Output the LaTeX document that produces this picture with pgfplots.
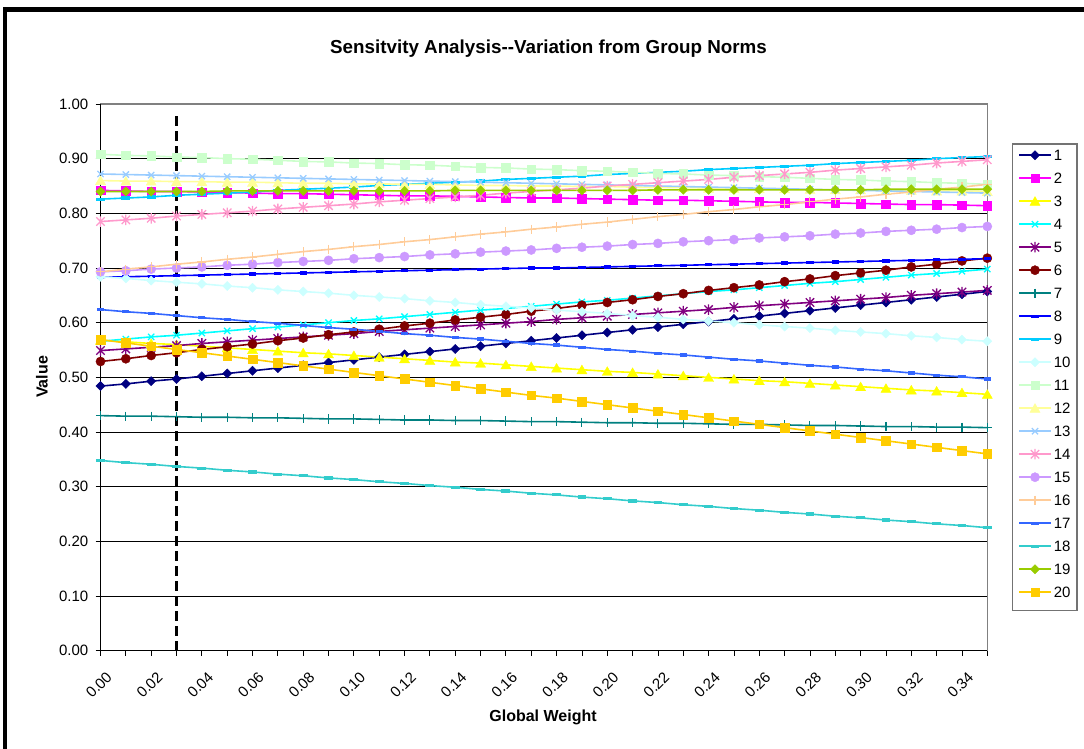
\documentclass[border=0pt]{standalone}
\usepackage{fontspec}
\setmainfont{Liberation Sans}
\usepackage{pgfplots}
\pgfplotsset{compat=1.18}
\usepackage{pgfplotstable}

% Excel 2003 default series colours
\definecolor{c1}{HTML}{000080}
\definecolor{c2}{HTML}{FF00FF}
\definecolor{c3}{HTML}{FFFF00}
\definecolor{c4}{HTML}{00FFFF}
\definecolor{c5}{HTML}{800080}
\definecolor{c6}{HTML}{800000}
\definecolor{c7}{HTML}{008080}
\definecolor{c8}{HTML}{0000FF}
\definecolor{c9}{HTML}{00CCFF}
\definecolor{c10}{HTML}{CCFFFF}
\definecolor{c11}{HTML}{CCFFCC}
\definecolor{c12}{HTML}{FFFF99}
\definecolor{c13}{HTML}{99CCFF}
\definecolor{c14}{HTML}{FF99CC}
\definecolor{c15}{HTML}{CC99FF}
\definecolor{c16}{HTML}{FFCC99}
\definecolor{c17}{HTML}{3366FF}
\definecolor{c18}{HTML}{33CCCC}
\definecolor{c19}{HTML}{99CC00}
\definecolor{c20}{HTML}{FFCC00}

% Excel-like marker shapes
\pgfdeclareplotmark{xdiamond}{%
  \pgfpathmoveto{\pgfqpoint{0pt}{\pgfplotmarksize}}%
  \pgfpathlineto{\pgfqpoint{\pgfplotmarksize}{0pt}}%
  \pgfpathlineto{\pgfqpoint{0pt}{-\pgfplotmarksize}}%
  \pgfpathlineto{\pgfqpoint{-\pgfplotmarksize}{0pt}}%
  \pgfpathclose\pgfusepathqfillstroke}
\pgfdeclareplotmark{xtri}{%
  \pgfpathmoveto{\pgfqpoint{0pt}{\pgfplotmarksize}}%
  \pgfpathlineto{\pgfqpoint{1.1\pgfplotmarksize}{-0.9\pgfplotmarksize}}%
  \pgfpathlineto{\pgfqpoint{-1.1\pgfplotmarksize}{-0.9\pgfplotmarksize}}%
  \pgfpathclose\pgfusepathqfillstroke}
\pgfdeclareplotmark{xstar}{%
  \pgfpathmoveto{\pgfqpoint{-\pgfplotmarksize}{-\pgfplotmarksize}}%
  \pgfpathlineto{\pgfqpoint{\pgfplotmarksize}{\pgfplotmarksize}}%
  \pgfpathmoveto{\pgfqpoint{-\pgfplotmarksize}{\pgfplotmarksize}}%
  \pgfpathlineto{\pgfqpoint{\pgfplotmarksize}{-\pgfplotmarksize}}%
  \pgfpathmoveto{\pgfqpoint{0pt}{-1.25\pgfplotmarksize}}%
  \pgfpathlineto{\pgfqpoint{0pt}{1.25\pgfplotmarksize}}%
  \pgfusepathqstroke}
\pgfdeclareplotmark{xdash}{%
  \pgfpathrectangle{\pgfqpoint{-\pgfplotmarksize}{-1.6pt}}{\pgfqpoint{2\pgfplotmarksize}{3.2pt}}%
  \pgfusepathqfill}

\pgfplotstableread{
x    s1    s2    s3    s4    s5    s6    s7    s8    s9    s10   s11   s12   s13   s14   s15   s16   s17   s18   s19   s20
0.00 0.484 0.842 0.568 0.566 0.549 0.529 0.430 0.683 0.826 0.684 0.908 0.860 0.872 0.785 0.693 0.693 0.624 0.348 0.840 0.569
0.01 0.488 0.841 0.565 0.570 0.552 0.534 0.429 0.684 0.828 0.681 0.906 0.859 0.871 0.788 0.695 0.698 0.620 0.344 0.840 0.563
0.02 0.493 0.840 0.562 0.574 0.555 0.540 0.429 0.685 0.830 0.677 0.905 0.859 0.870 0.791 0.698 0.702 0.617 0.341 0.840 0.557
0.03 0.497 0.840 0.560 0.577 0.558 0.545 0.428 0.686 0.833 0.674 0.903 0.858 0.869 0.795 0.700 0.707 0.613 0.337 0.840 0.551
0.04 0.502 0.839 0.557 0.581 0.562 0.551 0.427 0.687 0.835 0.671 0.902 0.858 0.868 0.798 0.702 0.711 0.609 0.334 0.840 0.545
0.05 0.507 0.838 0.554 0.585 0.565 0.556 0.427 0.688 0.837 0.667 0.900 0.857 0.867 0.801 0.705 0.716 0.606 0.330 0.841 0.539
0.06 0.512 0.837 0.551 0.589 0.568 0.561 0.426 0.689 0.839 0.664 0.899 0.857 0.866 0.804 0.707 0.720 0.602 0.327 0.841 0.533
0.07 0.517 0.836 0.548 0.592 0.571 0.567 0.426 0.690 0.842 0.660 0.897 0.856 0.865 0.808 0.710 0.725 0.599 0.323 0.841 0.527
0.08 0.522 0.836 0.545 0.596 0.574 0.572 0.425 0.691 0.844 0.657 0.895 0.855 0.864 0.811 0.712 0.730 0.595 0.320 0.841 0.521
0.09 0.527 0.835 0.543 0.600 0.577 0.578 0.424 0.692 0.846 0.654 0.894 0.855 0.863 0.814 0.714 0.734 0.591 0.316 0.841 0.515
0.10 0.532 0.834 0.540 0.604 0.580 0.583 0.424 0.693 0.848 0.650 0.892 0.854 0.862 0.817 0.717 0.739 0.588 0.313 0.841 0.509
0.11 0.537 0.833 0.537 0.607 0.584 0.588 0.423 0.694 0.851 0.647 0.891 0.854 0.861 0.821 0.719 0.743 0.584 0.309 0.841 0.503
0.12 0.542 0.832 0.534 0.611 0.587 0.594 0.422 0.695 0.853 0.644 0.889 0.853 0.860 0.824 0.721 0.748 0.580 0.306 0.841 0.497
0.13 0.547 0.832 0.531 0.615 0.590 0.599 0.422 0.696 0.855 0.640 0.888 0.853 0.859 0.827 0.724 0.752 0.577 0.302 0.841 0.491
0.14 0.552 0.831 0.528 0.619 0.593 0.605 0.421 0.697 0.857 0.637 0.886 0.852 0.858 0.830 0.726 0.757 0.573 0.299 0.842 0.485
0.15 0.557 0.830 0.526 0.623 0.596 0.610 0.421 0.698 0.859 0.633 0.884 0.851 0.857 0.833 0.729 0.762 0.570 0.295 0.842 0.479
0.16 0.562 0.829 0.523 0.626 0.599 0.615 0.420 0.699 0.862 0.630 0.883 0.851 0.856 0.837 0.731 0.766 0.566 0.292 0.842 0.473
0.17 0.567 0.828 0.520 0.630 0.602 0.621 0.419 0.700 0.864 0.627 0.881 0.850 0.855 0.840 0.733 0.771 0.562 0.288 0.842 0.467
0.18 0.572 0.828 0.517 0.634 0.606 0.626 0.419 0.700 0.866 0.623 0.880 0.850 0.854 0.843 0.736 0.775 0.559 0.285 0.842 0.462
0.19 0.577 0.827 0.514 0.638 0.609 0.632 0.418 0.701 0.868 0.620 0.878 0.849 0.853 0.846 0.738 0.780 0.555 0.281 0.842 0.456
0.20 0.582 0.826 0.511 0.641 0.612 0.637 0.417 0.702 0.871 0.617 0.877 0.849 0.852 0.850 0.740 0.784 0.551 0.278 0.842 0.450
0.21 0.587 0.825 0.509 0.645 0.615 0.642 0.417 0.703 0.873 0.613 0.875 0.848 0.851 0.853 0.743 0.789 0.548 0.274 0.842 0.444
0.22 0.592 0.824 0.506 0.649 0.618 0.648 0.416 0.704 0.875 0.610 0.873 0.847 0.850 0.856 0.745 0.794 0.544 0.271 0.843 0.438
0.23 0.597 0.824 0.503 0.653 0.621 0.653 0.416 0.705 0.877 0.606 0.872 0.847 0.849 0.859 0.748 0.798 0.541 0.267 0.843 0.432
0.24 0.602 0.823 0.500 0.657 0.624 0.659 0.415 0.706 0.880 0.603 0.870 0.846 0.848 0.862 0.750 0.803 0.537 0.264 0.843 0.426
0.25 0.607 0.822 0.497 0.660 0.628 0.664 0.414 0.707 0.882 0.600 0.869 0.846 0.847 0.866 0.752 0.807 0.533 0.260 0.843 0.420
0.26 0.612 0.821 0.494 0.664 0.631 0.669 0.414 0.708 0.884 0.596 0.867 0.845 0.846 0.869 0.755 0.812 0.530 0.257 0.843 0.414
0.27 0.617 0.820 0.492 0.668 0.634 0.675 0.413 0.709 0.886 0.593 0.866 0.845 0.845 0.872 0.757 0.816 0.526 0.253 0.843 0.408
0.28 0.622 0.820 0.489 0.672 0.637 0.680 0.412 0.710 0.888 0.590 0.864 0.844 0.844 0.875 0.759 0.821 0.522 0.250 0.843 0.402
0.29 0.627 0.819 0.486 0.675 0.640 0.686 0.412 0.711 0.891 0.586 0.862 0.843 0.843 0.879 0.762 0.826 0.519 0.246 0.843 0.396
0.30 0.632 0.818 0.483 0.679 0.643 0.691 0.411 0.712 0.893 0.583 0.861 0.843 0.842 0.882 0.764 0.830 0.515 0.243 0.843 0.390
0.31 0.637 0.817 0.480 0.683 0.646 0.696 0.410 0.713 0.895 0.580 0.859 0.842 0.841 0.885 0.767 0.835 0.512 0.239 0.844 0.384
0.32 0.642 0.816 0.477 0.687 0.650 0.702 0.410 0.714 0.897 0.576 0.858 0.842 0.840 0.888 0.769 0.839 0.508 0.236 0.844 0.378
0.33 0.647 0.816 0.475 0.690 0.653 0.707 0.409 0.715 0.900 0.573 0.856 0.841 0.839 0.892 0.771 0.844 0.504 0.232 0.844 0.372
0.34 0.652 0.815 0.472 0.694 0.656 0.713 0.409 0.716 0.902 0.569 0.855 0.841 0.838 0.895 0.774 0.848 0.501 0.229 0.844 0.366
0.35 0.657 0.814 0.469 0.698 0.659 0.718 0.408 0.717 0.904 0.566 0.853 0.840 0.837 0.898 0.776 0.853 0.497 0.225 0.844 0.360
}\sensdata

\begin{document}
\begin{tikzpicture}[x=1pt,y=1pt]
\useasboundingbox (0,0) rectangle (1084,748);
% chart area frame (only top and left edges are inside the picture)
\draw[line width=4.3pt, line join=miter] (5,-10) -- (5,738.5) -- (1100,738.5);

\node[font=\bfseries\fontsize{18.8}{20}\selectfont, anchor=base] at (548.5,694) {Sensitvity Analysis-{}-Variation from Group Norms};
\node[font=\bfseries\fontsize{16}{17}\selectfont, rotate=90] at (42,371) {Value};
\node[font=\bfseries\fontsize{16}{17}\selectfont] at (543,31) {Global Weight};

\begin{axis}[
    at={(100.5pt,97.3pt)}, anchor=south west,
    scale only axis,
    width=886.8pt, height=546.7pt,
    xmin=0, xmax=0.35,
    ymin=0, ymax=1,
    clip=false,
    xtick={0,0.02,0.04,0.06,0.08,0.10,0.12,0.14,0.16,0.18,0.20,0.22,0.24,0.26,0.28,0.30,0.32,0.34},
    minor xtick={0.01,0.03,0.05,0.07,0.09,0.11,0.13,0.15,0.17,0.19,0.21,0.23,0.25,0.27,0.29,0.31,0.33,0.35},
    ytick={0,0.1,0.2,0.3,0.4,0.5,0.6,0.7,0.8,0.9,1},
    xtick pos=bottom, ytick pos=left,
    tick align=outside,
    major tick length=5pt, minor tick length=5pt,
    tick style={black, line width=0.8pt},
    ymajorgrids,
    major grid style={black, line width=0.8pt},
    axis line style={draw=black!50, line width=1.2pt},
    ticklabel style={font=\fontsize{15}{16}\selectfont, inner sep=0pt},
    xticklabel style={rotate=45, anchor=north east, xshift=-7pt, yshift=-14pt},
    yticklabel style={anchor=east, xshift=-7pt},
    /pgf/number format/fixed,
    /pgf/number format/fixed zerofill,
    /pgf/number format/precision=2,
    /pgf/number format/assume math mode=true,
    every axis plot/.append style={line width=1.6pt},
    legend style={
        at={(rel axis cs:1,1)}, anchor=north west,
        xshift=30.7pt, yshift=-45.5pt,
        draw=none, fill=none,
        inner sep=0pt,
        row sep=12pt, column sep=2pt,
        font=\fontsize{15}{16}\selectfont,
        nodes={inner sep=0pt, text height=11pt, text depth=0pt, anchor=west},
    },
    legend cell align=left,
    legend image code/.code={
        \draw[mark repeat=2, mark phase=2] plot coordinates {(0pt,0pt) (16pt,0pt) (32pt,0pt)};
    },
]
% black left and bottom axis lines
\draw[black, line width=1.2pt] (rel axis cs:0,1) -- (rel axis cs:0,0) -- (rel axis cs:1,0);

\addplot[color=c1, mark=xdiamond, mark size=4.6pt, mark options={line width=0.4pt}] table[x=x, y=s1] {\sensdata};
\addlegendentry{1}
\addplot[color=c2, mark=square*, mark size=4.3pt, mark options={line width=0.4pt}] table[x=x, y=s2] {\sensdata};
\addlegendentry{2}
\addplot[color=c3, mark=xtri, mark size=4.6pt, mark options={line width=0.4pt}] table[x=x, y=s3] {\sensdata};
\addlegendentry{3}
\addplot[color=c4, mark=x, mark size=4.4pt, mark options={line width=1.3pt}] table[x=x, y=s4] {\sensdata};
\addlegendentry{4}
\addplot[color=c5, mark=xstar, mark size=4.2pt, mark options={line width=1.3pt}] table[x=x, y=s5] {\sensdata};
\addlegendentry{5}
\addplot[color=c6, mark=*, mark size=4.6pt, mark options={line width=0.4pt}] table[x=x, y=s6] {\sensdata};
\addlegendentry{6}
\addplot[color=c7, mark=+, mark size=4.6pt, mark options={line width=1.1pt}] table[x=x, y=s7] {\sensdata};
\addlegendentry{7}
\addplot[color=c8, mark=xdash, mark size=3.6pt] table[x=x, y=s8] {\sensdata};
\addlegendentry{8}
\addplot[color=c9, mark=xdash, mark size=4.4pt] table[x=x, y=s9] {\sensdata};
\addlegendentry{9}
\addplot[color=c10, mark=xdiamond, mark size=4.6pt, mark options={line width=0.4pt}] table[x=x, y=s10] {\sensdata};
\addlegendentry{10}
\addplot[color=c11, mark=square*, mark size=4.3pt, mark options={line width=0.4pt}] table[x=x, y=s11] {\sensdata};
\addlegendentry{11}
\addplot[color=c12, mark=xtri, mark size=4.6pt, mark options={line width=0.4pt}] table[x=x, y=s12] {\sensdata};
\addlegendentry{12}
\addplot[color=c13, mark=x, mark size=4.4pt, mark options={line width=1.3pt}] table[x=x, y=s13] {\sensdata};
\addlegendentry{13}
\addplot[color=c14, mark=xstar, mark size=4.2pt, mark options={line width=1.3pt}] table[x=x, y=s14] {\sensdata};
\addlegendentry{14}
\addplot[color=c15, mark=*, mark size=4.6pt, mark options={line width=0.4pt}] table[x=x, y=s15] {\sensdata};
\addlegendentry{15}
\addplot[color=c16, mark=+, mark size=4.6pt, mark options={line width=1.1pt}] table[x=x, y=s16] {\sensdata};
\addlegendentry{16}
\addplot[color=c17, mark=xdash, mark size=3.6pt] table[x=x, y=s17] {\sensdata};
\addlegendentry{17}
\addplot[color=c18, mark=xdash, mark size=4.4pt] table[x=x, y=s18] {\sensdata};
\addlegendentry{18}
\addplot[color=c19, mark=xdiamond, mark size=4.6pt, mark options={line width=0.4pt}] table[x=x, y=s19] {\sensdata};
\addlegendentry{19}
\addplot[color=c20, mark=square*, mark size=4.3pt, mark options={line width=0.4pt}] table[x=x, y=s20] {\sensdata};
\addlegendentry{20}

% reference weight marker
\addplot[black, line width=2.7pt, dash pattern=on 10pt off 5pt, forget plot] coordinates {(0.03,0) (0.03,0.986)};
\end{axis}

% legend frame
\draw[black!55, line width=1.2pt] (1012.7,137.3) rectangle (1077,604);
\end{tikzpicture}
\end{document}
